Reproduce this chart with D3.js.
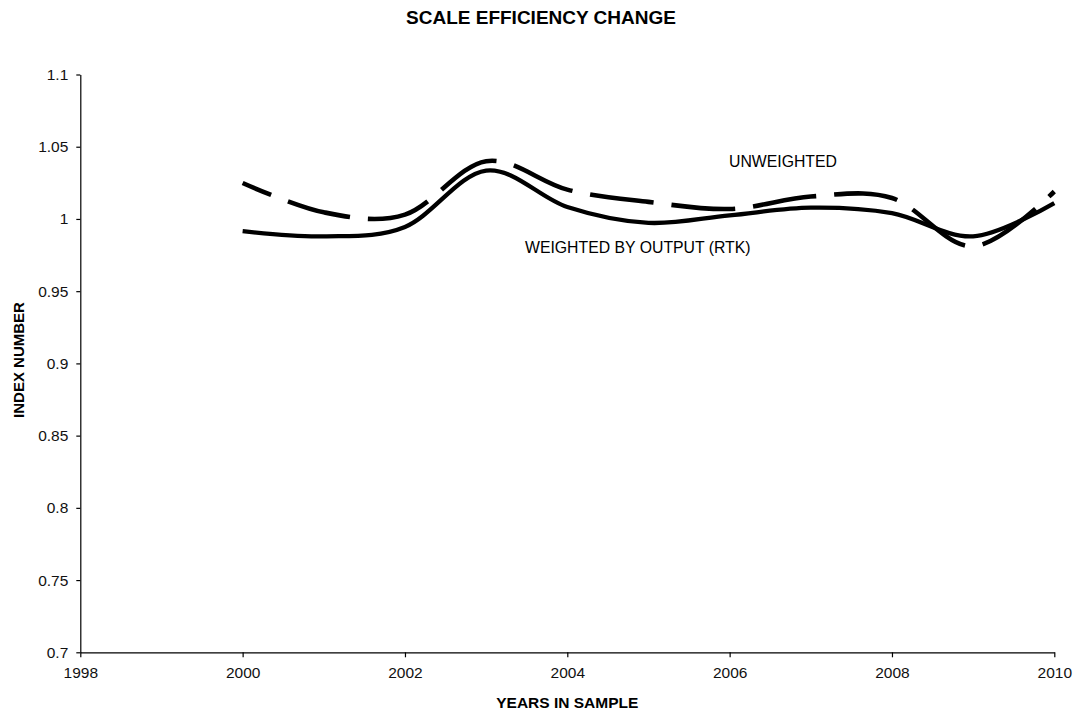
<!DOCTYPE html>
<html><head><meta charset="utf-8">
<script src="https://cdn.jsdelivr.net/npm/d3@7"></script>
<style>body{margin:0;background:#fff;} svg{display:block;} text{font-family:"Liberation Sans",Arial,sans-serif;}</style>
</head><body>
<svg id="c" width="1078" height="717"></svg>
<script>
const years = [2000,2001,2002,2003,2004,2005,2006,2007,2008,2009,2010];
const weighted = [0.9915,0.988,0.9945,1.0335,1.0083,0.9973,1.0025,1.0078,1.004,0.988,1.011];
const unweighted = [1.0249,1.0046,1.003,1.040,1.0203,1.0118,1.0069,1.0155,1.0145,0.981,1.019];
const xTicks = [1998,2000,2002,2004,2006,2008,2010];
const yTicks = [0.7,0.75,0.8,0.85,0.9,0.95,1,1.05,1.1];
const title = "SCALE EFFICIENCY CHANGE";
const xTitle = "YEARS IN SAMPLE";
const yTitle = "INDEX NUMBER";

const svg = d3.select("#c");
const x = d3.scaleLinear().domain([1998,2010]).range([80.3,1054.3]);
const y = d3.scaleLinear().domain([0.7,1.1]).range([652.3,74.5]);

const gx = svg.append("g").attr("transform","translate(0,652.3)")
  .call(d3.axisBottom(x).tickValues(xTicks).tickFormat(d3.format("d")).tickSize(5).tickSizeOuter(0).tickPadding(10));
const gy = svg.append("g").attr("transform","translate(80.3,0)")
  .call(d3.axisLeft(y).tickValues(yTicks).tickFormat(d=>String(+d.toFixed(2))).tickSize(4).tickSizeOuter(0).tickPadding(8));
[gx,gy].forEach(g=>{
  g.selectAll("path,line").attr("stroke","#000").attr("stroke-width",1.2);
  g.selectAll("text").attr("fill","#111").style("font-size","15.5px").style("font-family","'Liberation Sans',Arial,sans-serif");
});

const line = d3.line().x((d,i)=>x(years[i])).y(d=>y(d)).curve(d3.curveCatmullRom.alpha(0));
svg.append("path").datum(weighted).attr("d",line).attr("fill","none").attr("stroke","#000").attr("stroke-width",4.3);
svg.append("path").datum(unweighted).attr("d",line).attr("fill","none").attr("stroke","#000").attr("stroke-width",4.6)
  .attr("stroke-dasharray","64,18").attr("stroke-dashoffset",33).attr("stroke-linecap","butt");

svg.append("text").attr("x",541).attr("y",24).attr("text-anchor","middle").style("font-size","19px").style("font-weight","bold").text(title);
svg.append("text").attr("x",567.3).attr("y",708).attr("text-anchor","middle").style("font-size","15.5px").style("font-weight","bold").text(xTitle);
svg.append("text").attr("transform","translate(24,360) rotate(-90)").attr("text-anchor","middle").style("font-size","15px").style("font-weight","bold").text(yTitle);
svg.append("text").attr("x",729).attr("y",166.5).style("font-size","15.8px").text("UNWEIGHTED");
svg.append("text").attr("x",525).attr("y",253).style("font-size","15.8px").text("WEIGHTED BY OUTPUT (RTK)");
</script>
</body></html>
